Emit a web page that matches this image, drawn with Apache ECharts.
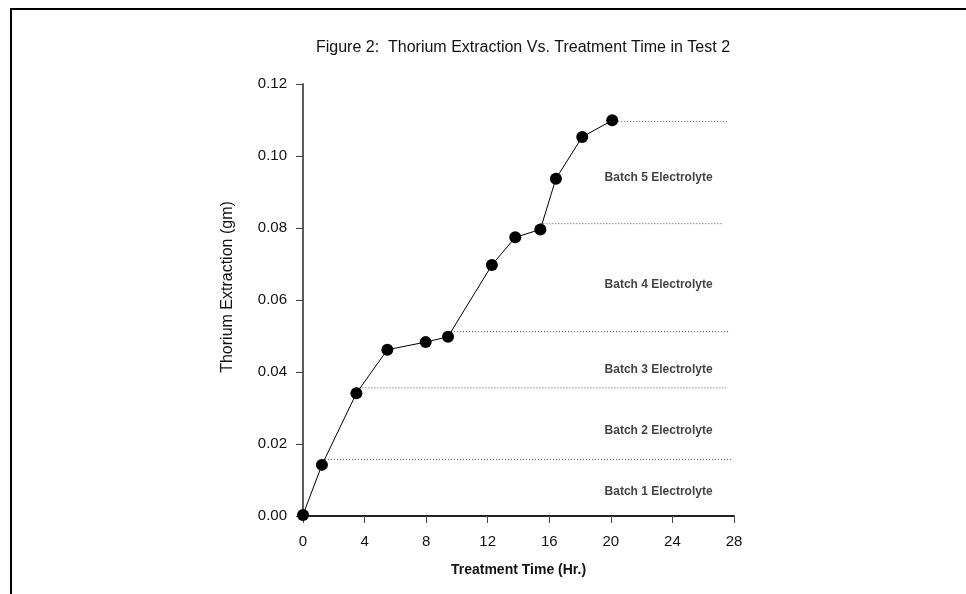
<!DOCTYPE html>
<html>
<head>
<meta charset="utf-8">
<script src="https://cdn.jsdelivr.net/npm/echarts@6/dist/echarts.min.js"></script>
<style>
  html, body { margin: 0; padding: 0; background: #fff; }
  #chart { width: 966px; height: 594px; }
</style>
</head>
<body>
<div id="chart"></div>
<script>
// measured points (time in hr, thorium in gm)
const timeHr = [0, 1.23, 3.47, 5.48, 7.97, 9.42, 12.27, 13.79, 15.42, 16.43, 18.14, 20.09]
const thoriumGm = [0.0003, 0.0142, 0.0341, 0.0462, 0.0483, 0.0498, 0.0697, 0.0774, 0.0796, 0.0937, 0.1053, 0.1099]

// electrolyte change levels (dotted lines)
const batchLevel = [0.0157, 0.0356, 0.0512, 0.0812, 0.1096]
const batchStart = [1.23, 3.47, 9.42, 15.42, 20.09]
const batchEnd = [27.8, 27.5, 27.75, 27.25, 27.55]

const batchNames = ['Batch 1 Electrolyte', 'Batch 2 Electrolyte', 'Batch 3 Electrolyte', 'Batch 4 Electrolyte', 'Batch 5 Electrolyte']
const batchLabelY = [0.0068, 0.0238, 0.0407, 0.0643, 0.0939]
const batchLabelX = 23.1

const chart = echarts.init(document.getElementById('chart'))
const FONT = 'Liberation Sans, Arial, sans-serif'

const series = []
series.push({
  type: 'line',
  data: timeHr.map((t, i) => [t, thoriumGm[i]]),
  symbol: 'circle',
  symbolSize: 12,
  itemStyle: { color: '#000' },
  lineStyle: { color: '#000', width: 1 },
  z: 5
})
for (let i = 0; i < batchLevel.length; i++) {
  series.push({
    type: 'line',
    data: [[batchStart[i], batchLevel[i]], [batchEnd[i], batchLevel[i]]],
    symbol: 'none',
    lineStyle: { color: '#555', width: 1, type: [1, 2] },
    z: 2
  })
}
series.push({
  type: 'scatter',
  symbolSize: 0,
  data: batchNames.map((n, i) => ({ value: [batchLabelX, batchLabelY[i]], name: n })),
  label: {
    show: true,
    position: 'inside',
    formatter: p => p.name,
    fontFamily: FONT,
    fontWeight: 'bold',
    fontSize: 12,
    color: '#111'
  }
})

chart.setOption({
  animation: false,
  title: {
    text: 'Figure 2:  Thorium Extraction Vs. Treatment Time in Test 2',
    left: 518,
    textAlign: 'center',
    top: 35,
    textStyle: { fontFamily: FONT, fontWeight: 'normal', fontSize: 16, color: '#111' }
  },
  graphic: [{
    type: 'polyline',
    shape: { points: [[11, 594], [11, 9], [966, 9]] },
    style: { stroke: '#000', lineWidth: 2, fill: null }
  }],
  grid: { left: 303, right: 232, top: 84, bottom: 78 },
  xAxis: [{
    type: 'value',
    min: 0, max: 28, interval: 4,
    name: 'Treatment Time (Hr.)',
    nameLocation: 'middle',
    nameGap: 47,
    nameTextStyle: { fontFamily: FONT, fontWeight: 'bold', fontSize: 14, color: '#111' },
    axisLine: { show: true, lineStyle: { color: '#666', width: 1.5 } },
    axisTick: { show: true, length: 7, lineStyle: { color: '#444' } },
    axisLabel: { margin: 18, fontFamily: FONT, fontSize: 15, color: '#111' },
    splitLine: { show: false }
  }, {
    type: 'value',
    position: 'top',
    min: 0, max: 28,
    axisLine: { show: true, lineStyle: { color: '#000', width: 1.5 } },
    axisTick: { show: false },
    axisLabel: { show: false },
    splitLine: { show: false }
  }],
  yAxis: [{
    type: 'value',
    min: 0, max: 0.12, interval: 0.02,
    name: 'Thorium Extraction (gm)',
    nameLocation: 'middle',
    nameRotate: 90,
    nameGap: 67,
    nameTextStyle: { fontFamily: FONT, fontSize: 16, color: '#111', padding: [0, 0, 0, 26] },
    axisLine: { show: true, lineStyle: { color: '#000', width: 1.5 } },
    axisTick: { show: true, length: 7, lineStyle: { color: '#444' } },
    axisLabel: { margin: 16, fontFamily: FONT, fontSize: 15, color: '#111', formatter: v => v.toFixed(2) },
    splitLine: { show: false }
  }, {
    type: 'value',
    position: 'right',
    min: 0, max: 0.12,
    axisLine: { show: true, lineStyle: { color: '#666', width: 1.5 } },
    axisTick: { show: false },
    axisLabel: { show: false },
    splitLine: { show: false }
  }],
  series: series
})
</script>
</body>
</html>
